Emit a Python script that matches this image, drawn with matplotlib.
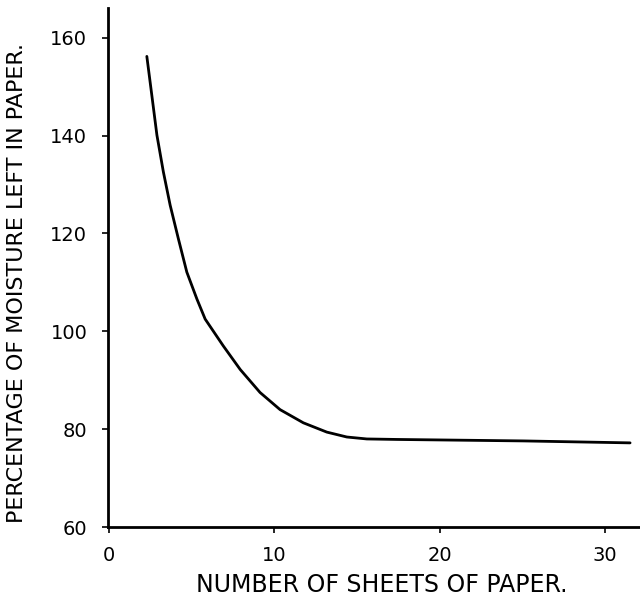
import matplotlib.pyplot as plt
import numpy as np

# values
sheets = [2.28, 2.58, 2.89, 3.28, 3.69, 4.19, 4.70, 5.31, 5.81, 6.91, 7.93, 9.13,
          10.34, 11.75, 13.17, 14.38, 15.59, 17.4, 25.05, 31.52]
moisture = [156.2, 148.3, 140.1, 132.6, 125.8, 118.9, 112.1, 106.6, 102.5, 97.0, 92.2, 87.5,
            84.0, 81.3, 79.4, 78.4, 78.0, 77.9, 77.6, 77.2]

xticks = [0, 10, 20, 30]
yticks = [60, 80, 100, 120, 140, 160]

fig = plt.figure(figsize=(6.4, 5.98), dpi=100)
ax = fig.add_axes([0.169, 0.1187, 0.831, 0.868])

ax.plot(sheets, moisture, color='black', lw=2.0, solid_capstyle='round',
        solid_joinstyle='round')

ax.set_xlim(-0.06, 32.12)
ax.set_ylim(60, 166.1)
ax.set_xticks(xticks)
ax.set_yticks(yticks)
ax.tick_params(axis='both', labelsize=14, length=4, width=1.2)
ax.tick_params(axis='x', pad=10)
ax.tick_params(axis='y', pad=11)

ax.spines['top'].set_visible(False)
ax.spines['right'].set_visible(False)
ax.spines['left'].set_linewidth(2)
ax.spines['bottom'].set_linewidth(2)

fig.text(0.597, 0.022, 'NUMBER OF SHEETS OF PAPER.', fontsize=17,
         ha='center', va='center')
fig.text(0.026, 0.527, 'PERCENTAGE OF MOISTURE LEFT IN PAPER.', fontsize=16,
         rotation=90, ha='center', va='center')

fig.savefig('out.png', dpi=100)
